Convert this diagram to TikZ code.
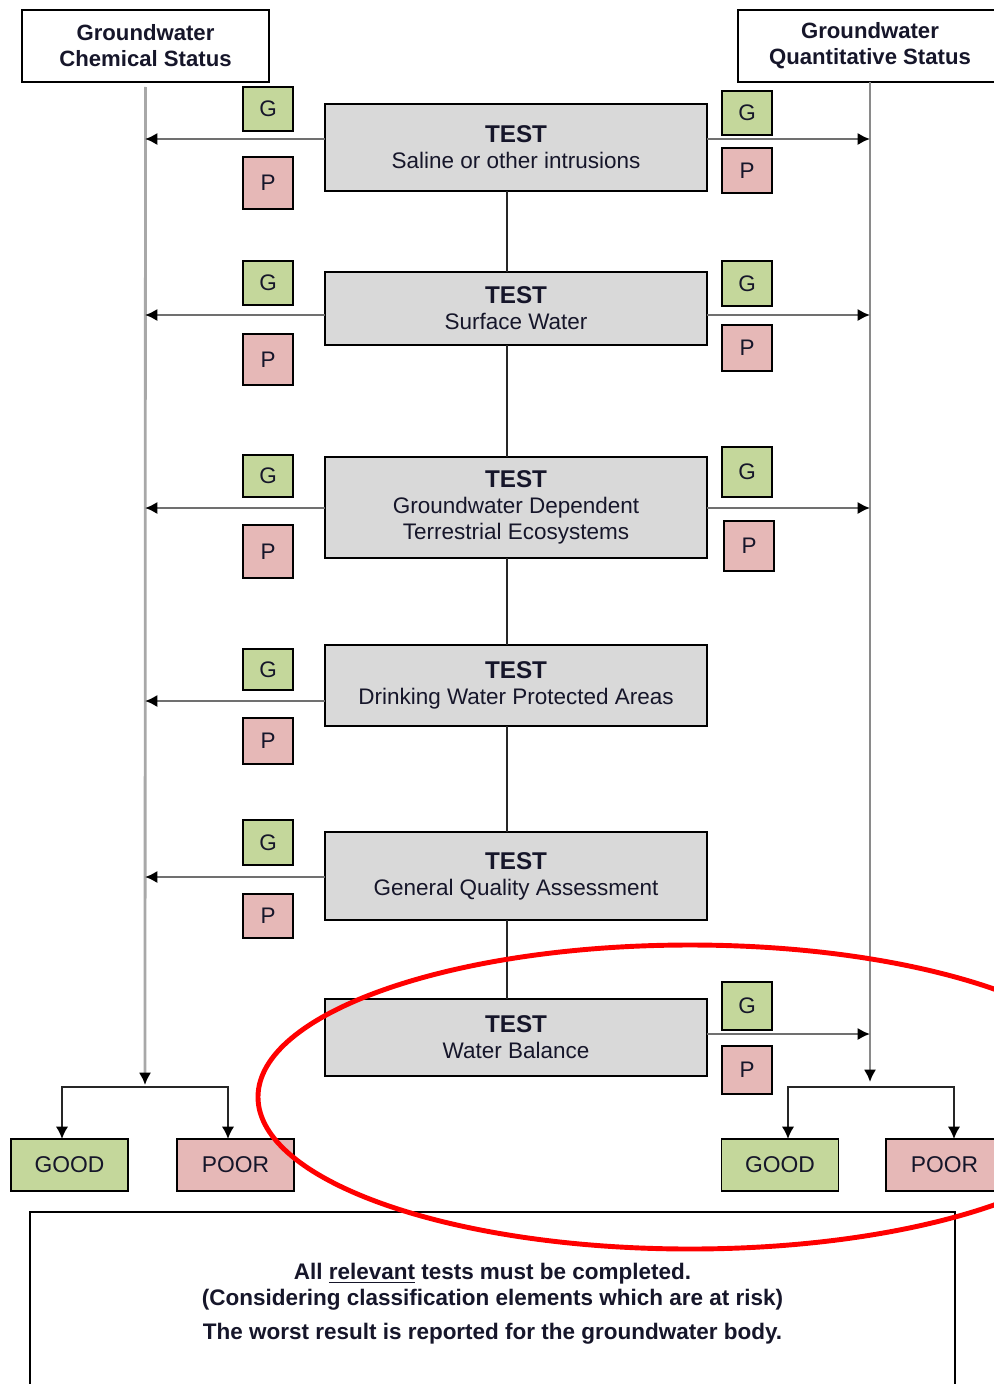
\documentclass[tikz,border=0pt]{standalone}
\usepackage{fontspec}
\setmainfont{Liberation Sans}
\usetikzlibrary{arrows.meta}
\definecolor{gfill}{HTML}{C4D79B}
\definecolor{pfill}{HTML}{E6B8B7}
\definecolor{tfill}{HTML}{D9D9D9}
\definecolor{vlineL}{HTML}{A8A8A8}
\definecolor{vlineR}{HTML}{8A8A8A}
\definecolor{hline}{HTML}{707070}
\definecolor{ink}{HTML}{16162A}
\newcommand\testhead{{\fontsize{13.8}{14.8}\selectfont\bfseries TEST}\\}
\begin{document}
\begin{tikzpicture}[x=0.02cm,y=-0.02cm,
  every node/.style={inner sep=0pt, outer sep=0pt, text=ink},
  box/.style={draw=black, line width=0.9pt},
  hdr/.style={box, line width=1.1pt, fill=white, align=center, minimum height=1.44cm,
    font=\fontsize{12.6}{14.8}\selectfont\bfseries},
  testbox/.style={box, fill=tfill, align=center, minimum width=7.64cm,
    font=\fontsize{12.8}{14.8}\selectfont},
  gbox/.style={box, fill=gfill, minimum width=1cm, font=\fontsize{12.8}{14}\selectfont},
  pbox/.style={box, fill=pfill, minimum width=1cm, font=\fontsize{12.8}{14}\selectfont},
  resgood/.style={box, fill=gfill, minimum width=2.34cm, minimum height=1.04cm,
    font=\fontsize{13}{15}\selectfont},
  respoor/.style={box, fill=pfill, minimum width=2.34cm, minimum height=1.04cm,
    font=\fontsize{13}{15}\selectfont},
  tarrow/.style={draw=hline, line width=1.3pt, -{Latex[color=black,length=7pt,width=7pt]}},
  conn/.style={draw=black!85, line width=1.1pt},
  vleft/.style={draw=vlineL, line width=1.6pt, -{Latex[color=black,length=7pt,width=7pt]}},
  vright/.style={draw=vlineR, line width=1.4pt, -{Latex[color=black,length=7pt,width=7pt]}},
  splitline/.style={draw=black!85, line width=1.1pt, {Latex[color=black,length=7pt,width=7pt]}-{Latex[color=black,length=7pt,width=7pt]}}
]
\clip (0,0) rectangle (994,1384);
\fill[white] (0,0) rectangle (994,1384);

% headers
\node[hdr, minimum width=4.94cm] (hl) at (145.5,46) {Groundwater\\Chemical Status};
\node[hdr, minimum width=5.28cm] (hr) at (870,46) {Groundwater\\Quantitative Status};

% test boxes
\node[testbox, minimum height=1.74cm] (t1) at (516,147.5) {\testhead Saline or other intrusions};
\node[testbox, minimum height=1.46cm] (t2) at (516,308.5) {\testhead Surface Water};
\node[testbox, minimum height=2.02cm] (t3) at (516,507.5) {\testhead Groundwater Dependent\\Terrestrial Ecosystems};
\node[testbox, minimum height=1.62cm] (t4) at (516,685.5) {\testhead Drinking Water Protected Areas};
\node[testbox, minimum height=1.76cm] (t5) at (516,876) {\testhead General Quality Assessment};
\node[testbox, minimum height=1.54cm] (t6) at (516,1037.5) {\testhead Water Balance};

% connectors between tests
\coordinate (cx) at (507,0);
\draw[conn] (t1.south -| cx) -- (t2.north -| cx);
\draw[conn] (t2.south -| cx) -- (t3.north -| cx);
\draw[conn] (t3.south -| cx) -- (t4.north -| cx);
\draw[conn] (t4.south -| cx) -- (t5.north -| cx);
\draw[conn] (t5.south -| cx) -- (t6.north -| cx);

% left G/P
\node[gbox, minimum height=0.88cm] (gl1) at (268,109) {G};
\node[pbox, minimum height=1.04cm] (pl1) at (268,183) {P};
\node[gbox, minimum height=0.88cm] (gl2) at (268,283) {G};
\node[pbox, minimum height=1.02cm] (pl2) at (268,359.5) {P};
\node[gbox, minimum height=0.84cm] (gl3) at (268,476) {G};
\node[pbox, minimum height=1.06cm] (pl3) at (268,551.5) {P};
\node[gbox, minimum height=0.82cm] (gl4) at (268,669.5) {G};
\node[pbox, minimum height=0.92cm] (pl4) at (268,741) {P};
\node[gbox, minimum height=0.90cm] (gl5) at (268,842.5) {G};
\node[pbox, minimum height=0.88cm] (pl5) at (268,916) {P};

% right G/P
\node[gbox, minimum height=0.88cm] (gr1) at (747,113) {G};
\node[pbox, minimum height=0.90cm] (pr1) at (747,170.5) {P};
\node[gbox, minimum height=0.90cm] (gr2) at (747,283.5) {G};
\node[pbox, minimum height=0.92cm] (pr2) at (747,348) {P};
\node[gbox, minimum height=1.0cm] (gr3) at (747,472) {G};
\node[pbox, minimum height=1.0cm] (pr3) at (749,546) {P};
\node[gbox, minimum height=0.96cm] (gr6) at (747,1006) {G};
\node[pbox, minimum height=0.96cm] (pr6) at (747,1070) {P};

% vertical status lines
\coordinate (lend) at (145,1085);
\coordinate (rend) at (870,1082);
\draw[vleft] ([yshift=-0.1cm]hl.south) -- (lend);
\draw[vright] (hr.south) -- (rend);

% arrow targets on status lines
\coordinate (L1) at (145,139);
\coordinate (L2) at (145,315);
\coordinate (L3) at (145,508);
\coordinate (L4) at (145,701);
\coordinate (L5) at (145,877);
\coordinate (R1) at (870,139);
\coordinate (R2) at (870,315);
\coordinate (R3) at (870,508);
\coordinate (R6) at (870,1034);

\draw[tarrow] (t1.west |- L1) -- (L1);
\draw[tarrow] (t2.west |- L2) -- (L2);
\draw[tarrow] (t3.west |- L3) -- (L3);
\draw[tarrow] (t4.west |- L4) -- (L4);
\draw[tarrow] (t5.west |- L5) -- (L5);
\draw[tarrow] (t1.east |- R1) -- (R1);
\draw[tarrow] (t2.east |- R2) -- (R2);
\draw[tarrow] (t3.east |- R3) -- (R3);
\draw[tarrow] (t6.east |- R6) -- (R6);

% results
\node[resgood] (lgood) at (69.5,1165) {GOOD};
\node[respoor] (lpoor) at (235.5,1165) {POOR};
\node[resgood] (rgood) at (780,1165) {GOOD};
\node[respoor] (rpoor) at (944.5,1165) {POOR};

\coordinate (la) at (62,1087);
\coordinate (lb) at (228,1087);
\coordinate (ra) at (788,1087);
\coordinate (rb) at (954,1087);
\draw[splitline] (la |- lgood.north) -- (la) -- (lb) -- (lb |- lpoor.north);
\draw[splitline] (ra |- rgood.north) -- (ra) -- (rb) -- (rb |- rpoor.north);

% note box
\node[box, line width=1.1pt, minimum width=18.5cm, minimum height=3.66cm, align=center,
  font=\fontsize{12.8}{14.7}\selectfont\bfseries] (note) at (492.5,1303.5)
  {All \underline{relevant} tests must be completed.\\(Considering classification elements which are at risk)\\[4.5pt]The worst result is reported for the groundwater body.};

% red highlight ellipse
\draw[red, line width=2.8pt] (690,1097) ellipse [x radius=432, y radius=152];
\end{tikzpicture}
\end{document}
